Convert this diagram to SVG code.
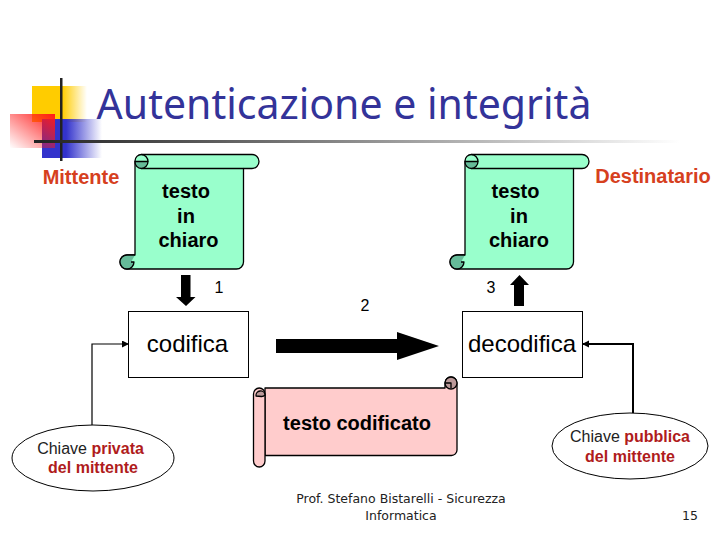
<svg xmlns="http://www.w3.org/2000/svg" width="720" height="540" viewBox="0 0 720 540">
<style>
text{font-family:"Liberation Sans",Arial,sans-serif;fill:#000;text-anchor:middle}
.scroll{stroke:#000;stroke-width:1.3;stroke-linejoin:round}
.box{fill:#fff;stroke:#000;stroke-width:1}
.thin{fill:none;stroke:#000;stroke-width:1.2}
.thick{fill:none;stroke:#000;stroke-width:2}
.sc{font-size:20px;font-weight:bold}
.k{font-size:16px;fill:#222}
.r{fill:#b01c1c;font-weight:bold}
.rl{font-size:20px;font-weight:bold;fill:#d6401e}
.n{font-size:16px}
.big{font-size:24px}
.ft{font-family:"DejaVu Sans",sans-serif;font-size:12.5px;fill:#222}
</style>
<defs>
<linearGradient id="gy" x1="0" x2="1" y1="0" y2="0"><stop offset="0.55" stop-color="#ffcc00"/><stop offset="1" stop-color="#ffcc00" stop-opacity="0"/></linearGradient>
<linearGradient id="gb" x1="0" x2="1" y1="0" y2="0"><stop offset="0.4" stop-color="#3333cc"/><stop offset="1" stop-color="#3333cc" stop-opacity="0"/></linearGradient>
<linearGradient id="gr" x1="1" x2="0" y1="0" y2="1"><stop offset="0" stop-color="#ff1a1a"/><stop offset="1" stop-color="#ff1a1a" stop-opacity="0"/></linearGradient>
<linearGradient id="gl" x1="0" x2="1" y1="0" y2="0"><stop offset="0" stop-color="#222"/><stop offset="0.4" stop-color="#777"/><stop offset="1" stop-color="#fff"/></linearGradient>
<marker id="ah" markerWidth="8" markerHeight="8" refX="6" refY="3.500" orient="auto" markerUnits="userSpaceOnUse"><path d="M0 0L7 3.500L0 7z" fill="#000"/></marker>
<g id="vs">
<path class="scroll" fill="#99ffcc" d="M135 161a6.500 6.500 0 0 1 6.500-6.500H252a7 7 0 0 1 0 14H243.500V262a7 7 0 0 1-7 7H127a7 7 0 0 1 0-14h8z"/>
<path class="scroll" fill="none" d="M141.500 168.500H243.500"/>
<path class="scroll" fill="#66bb99" d="M135 161.500h13a7 7 0 0 1-6.500 7a6.500 6.500 0 0 1-6.500-7z"/>
<path class="scroll" fill="none" d="M141.500 154.500a7 7 0 0 1 6.500 7"/>
<path class="scroll" fill="#66bb99" d="M135 255h-8a7 7 0 0 0 0 14a7 7 0 0 0 7-7h-3"/>
</g>
</defs>
<g id="decor">
<rect x="32" y="86" width="55" height="36" fill="url(#gy)"/>
<rect x="42" y="119" width="60" height="39" fill="url(#gb)"/>
<rect x="10" y="114" width="45" height="34" fill="url(#gr)"/>
<rect x="60" y="78" width="2.500" height="83" fill="#222"/>
<rect x="34" y="140" width="646" height="3" fill="url(#gl)"/>
</g>
<text id="title" x="344" y="119" style="font-family:'Noto Sans','Open Sans',sans-serif;font-size:41px;fill:#333399">Autenticazione e integrità</text>
<g id="connectors">
<path class="thin" d="M92 425V344H128" marker-end="url(#ah)"/>
<path class="thick" d="M633 413V344H583" marker-end="url(#ah)"/>
<path fill="#000" d="M181 275h9.500v22h5l-9.500 9l-10-9h5z"/>
<path fill="#000" d="M514 306h10v-21h5l-9.500-10l-9.500 10h4z"/>
<path fill="#000" d="M276 339h121v-7l42 14l-42 14v-7h-121z"/>
</g>
<g id="mittente"><text class="rl" x="81" y="184">Mittente</text></g>
<g id="destinatario"><text class="rl" x="653" y="183">Destinatario</text></g>
<g id="scroll-left">
<use href="#vs"/>
<text class="sc" x="186" y="198">testo</text><text class="sc" x="186" y="223">in</text><text class="sc" x="188.500" y="247">chiaro</text>
</g>
<g id="scroll-right">
<use href="#vs" x="330"/>
<text class="sc" x="515.500" y="198">testo</text><text class="sc" x="519" y="223">in</text><text class="sc" x="519" y="247">chiaro</text>
</g>
<g id="label-1"><text class="n" x="219" y="293">1</text></g>
<g id="label-2"><text class="n" x="365" y="311">2</text></g>
<g id="label-3"><text class="n" x="491" y="293">3</text></g>
<g id="codifica"><rect class="box" x="128.500" y="311.500" width="120" height="66"/><text class="big" x="187.500" y="352">codifica</text></g>
<g id="decodifica"><rect class="box" x="462.500" y="311.500" width="120" height="66"/><text class="big" x="522" y="352">decodifica</text></g>
<g id="scroll-pink">
<path class="scroll" fill="#ffcccc" d="M265 388H445V383a6 6 0 0 1 12 0V450a5.500 5.500 0 0 1-5.500 5.500H265z"/>
<path class="scroll" fill="#ffcccc" d="M253.500 394a5.750 6 0 0 1 11.500 0V461a5.750 6 0 0 1-11.500 0z"/>
<path class="scroll" fill="#bb9999" d="M256 396a4.500 4.500 0 0 1 9-1a4.500 4.500 0 0 1-3.500 1.500z"/>
<circle class="scroll" cx="451" cy="383" r="6" fill="#bb9999"/>
<path class="scroll" fill="none" d="M445 383H451V388"/>
<text class="sc" x="357" y="430">testo codificato</text>
</g>
<g id="key-left">
<ellipse cx="93" cy="458" rx="81" ry="33" fill="#fff" stroke="#000"/>
<text class="k" x="90.500" y="454">Chiave <tspan class="r">privata</tspan></text>
<text class="k r" x="93" y="473">del mittente</text>
</g>
<g id="key-right">
<ellipse cx="630" cy="446" rx="78" ry="33" fill="#fff" stroke="#000"/>
<text class="k" x="630" y="442">Chiave <tspan class="r">pubblica</tspan></text>
<text class="k r" x="630" y="462">del mittente</text>
</g>
<g id="footer">
<text class="ft" x="401" y="503">Prof. Stefano Bistarelli - Sicurezza</text>
<text class="ft" x="401" y="520">Informatica</text>
<text class="ft" x="690" y="520">15</text>
</g>
</svg>
